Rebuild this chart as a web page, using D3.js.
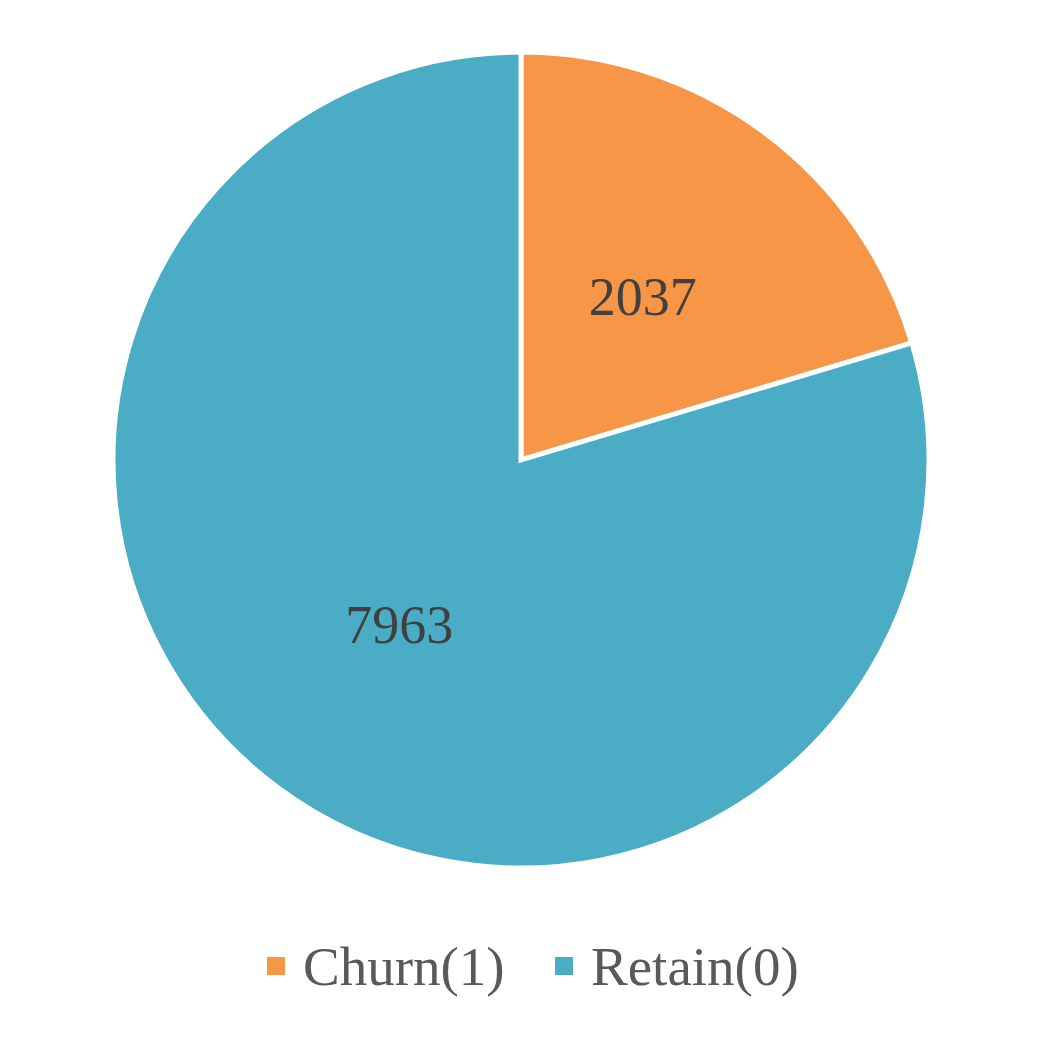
<!DOCTYPE html>
<html>
<head>
<meta charset="utf-8">
<script src="https://cdn.jsdelivr.net/npm/d3@7"></script>
<style>
  body { margin: 0; background: #fff; }
  text { font-family: "Liberation Serif", "Times New Roman", serif; }
</style>
</head>
<body>
<svg id="chart" width="1045" height="1045"></svg>
<script>
// data for the pie
var categories = ["Churn(1)", "Retain(0)"];
var counts = [2037, 7963];
var colours = ["#F79646", "#4BACC6"];

var svg = d3.select("#chart"),
    cx = 521,
    cy = 460,
    radius = 408;

var data = categories.map(function(c, i) {
  return {name: c, value: counts[i]};
});

var color = d3.scaleOrdinal().domain(categories).range(colours);

// pie starts at 12 o'clock going clockwise, no sorting
var pie = d3.pie().sort(null).value(function(d) { return d.value; });
var arc = d3.arc().innerRadius(0).outerRadius(radius);
var labelArc = d3.arc().innerRadius(radius * 0.5).outerRadius(radius * 0.5);

var g = svg.append("g")
    .attr("transform", "translate(" + cx + "," + cy + ")");

var slices = g.selectAll(".slice")
  .data(pie(data))
  .enter().append("g")
    .attr("class", "slice");

slices.append("path")
    .attr("d", arc)
    .attr("fill", function(d) { return color(d.data.name); })
    .attr("stroke", "#fff")
    .attr("stroke-width", 5)
    .attr("stroke-linejoin", "miter");

// value labels in the middle of each slice
slices.append("text")
    .attr("transform", function(d) { return "translate(" + labelArc.centroid(d) + ")"; })
    .attr("text-anchor", "middle")
    .attr("dy", "0.35em")
    .attr("font-size", 54)
    .attr("fill", "#404040")
    .text(function(d) { return d.data.value; });

// legend under the pie
var legend = svg.append("g")
    .attr("transform", "translate(0,966)");

var legendX = d3.scaleOrdinal().domain(categories).range([267, 555]);

var item = legend.selectAll(".item")
  .data(categories)
  .enter().append("g")
    .attr("class", "item")
    .attr("transform", function(d) { return "translate(" + legendX(d) + ",0)"; });

item.append("rect")
    .attr("x", 0)
    .attr("y", -9)
    .attr("width", 18)
    .attr("height", 18)
    .attr("fill", function(d) { return color(d); });

item.append("text")
    .attr("x", 36)
    .attr("dy", "0.35em")
    .attr("font-size", 55)
    .attr("fill", "#595959")
    .text(function(d) { return d; });
</script>
</body>
</html>
